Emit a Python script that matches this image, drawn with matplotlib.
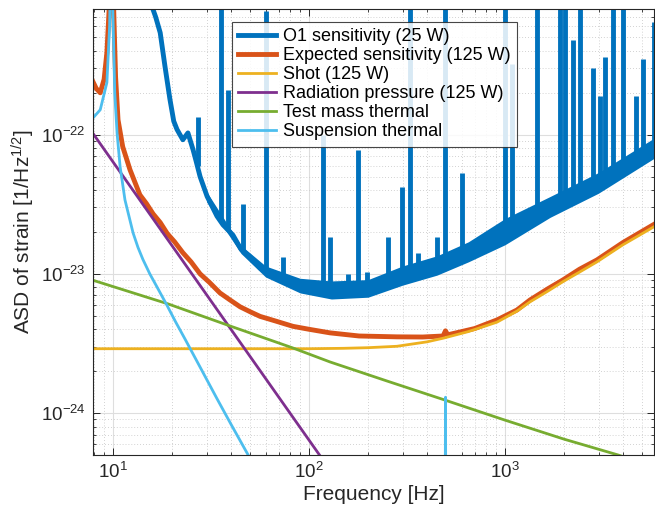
import matplotlib
matplotlib.use('Agg')
import matplotlib.pyplot as plt
from matplotlib.ticker import LogLocator, NullFormatter

plt.rcParams['font.family'] = ['Liberation Sans', 'DejaVu Sans']
plt.rcParams['mathtext.default'] = 'regular'

# ---- data (Hz, strain/rtHz) ----
# O1 measured curve: smooth floor, noisy band around it, and narrow lines
freq_o1 = [15.5, 16.5, 17.4, 18.4, 19.5, 20.4, 21.2, 22.7, 24.1, 25.6, 26.5, 27.8, 30.2,
           33.9, 36.4, 40.9, 45, 49.9, 56.3, 65.5, 80, 90, 132, 197, 292, 428, 640,
           988, 1698, 3055, 5800]
asd_o1 = [9e-22, 7e-22, 5.4e-22, 3.1e-22, 1.8e-22, 1.25e-22, 1.09e-22, 9.2e-23, 1.03e-22,
          7.8e-23, 6.5e-23, 5.0e-23, 3.6e-23, 2.6e-23, 2.25e-23, 1.9e-23, 1.5e-23,
          1.33e-23, 1.1e-23, 9.6e-24, 9.3e-24, 8.3e-24, 7.7e-24, 7.9e-24, 9.8e-24,
          1.12e-23, 1.42e-23, 2.0e-23, 3.03e-23, 4.52e-23, 8.0e-23]

band_freq = [30, 45, 60, 90, 130, 200, 300, 450, 650, 1000, 1700, 3000, 5800]
band_lo = [3.3e-23, 1.4e-23, 9.5e-24, 7.3e-24, 6.6e-24, 6.8e-24, 8.3e-24, 9.8e-24,
           1.22e-23, 1.62e-23, 2.55e-23, 3.8e-23, 6.8e-23]
band_hi = [3.9e-23, 1.6e-23, 1.14e-23, 9.3e-24, 8.9e-24, 9.1e-24, 1.14e-23, 1.35e-23,
           1.7e-23, 2.5e-23, 3.6e-23, 5.35e-23, 9.5e-23]

line_freq = [27.2, 35.5, 38.5, 46.0, 60.0, 73.7, 118, 128, 158, 178, 198, 253, 298, 327,
             359, 448, 494, 604, 1000, 1080, 1457, 1917, 2032, 2230, 2419, 2800, 3045,
             3225, 3541, 3985, 4680, 5050, 5750]
line_base = [6.0e-23, 2.4e-23, 2.1e-23, 1.45e-23, 1.05e-23, 9.4e-24, 7.8e-24, 7.7e-24,
             7.7e-24, 7.8e-24, 7.9e-24, 9.0e-24, 9.8e-24, 1.0e-23, 1.05e-23, 1.15e-23,
             1.2e-23, 1.4e-23, 2.0e-23, 2.1e-23, 2.7e-23, 3.3e-23, 3.4e-23, 3.6e-23,
             3.8e-23, 4.2e-23, 4.5e-23, 4.7e-23, 5.0e-23, 5.6e-23, 6.4e-23, 6.9e-23, 8.0e-23]
line_top = [1.33e-22, 9e-22, 2.1e-22, 3.2e-23, 7.7e-22, 1.32e-23, 1.0e-22, 1.85e-23,
            1.0e-23, 7.8e-23, 1.03e-23, 1.85e-23, 4.2e-23, 9e-22, 1.42e-23, 1.85e-23,
            9e-22, 5.3e-23, 9e-22, 3.2e-22, 9e-22, 9e-22, 9e-22, 4.8e-22, 9e-22,
            3.0e-22, 1.9e-22, 3.6e-22, 9e-22, 9e-22, 1.9e-22, 3.5e-22, 6.4e-22]

freq_exp = [7.9, 8.2, 8.6, 9.0, 9.3, 9.55, 9.8, 10.05, 10.3, 10.6, 11.2, 12.2, 13.7, 14.8,
            16.0, 17.4, 18.9, 20.6, 22.7, 25, 27.8, 31, 35.1, 39.5, 44.5, 50, 56.3, 67,
            82.8, 100, 128, 180, 281, 380, 483, 497, 510, 700, 910, 1150, 1342, 1650,
            1977, 2400, 2946, 4000, 5820]
asd_exp = [2.4e-22, 2.15e-22, 2.0e-22, 2.5e-22, 3.9e-22, 8e-22, 5e-21, 9e-22, 2.6e-22,
           1.28e-22, 8.2e-23, 5.6e-23, 3.7e-23, 3.2e-23, 2.7e-23, 2.34e-23, 1.95e-23,
           1.7e-23, 1.42e-23, 1.22e-23, 1.0e-23, 8.7e-24, 7.3e-24, 6.5e-24, 5.8e-24,
           5.35e-24, 4.95e-24, 4.6e-24, 4.2e-24, 4.0e-24, 3.77e-24, 3.58e-24, 3.53e-24,
           3.52e-24, 3.58e-24, 3.9e-24, 3.65e-24, 4.05e-24, 4.67e-24, 5.5e-24, 6.5e-24,
           7.8e-24, 9.06e-24, 1.08e-23, 1.26e-23, 1.68e-23, 2.29e-23]

freq_shot = [7.9, 100, 150, 200, 281, 400, 483, 650, 910, 1150, 1342, 1650, 1977, 2400,
             2946, 4000, 5820]
asd_shot = [2.9e-24, 2.9e-24, 2.92e-24, 2.95e-24, 3.02e-24, 3.25e-24, 3.45e-24, 3.85e-24,
            4.5e-24, 5.4e-24, 6.3e-24, 7.5e-24, 8.8e-24, 1.03e-23, 1.22e-23, 1.62e-23,
            2.2e-23]

freq_rad = [7.9, 200]
asd_rad = [1.02e-22, 1.6e-25]

freq_tm = [7.9, 19, 40, 82, 128, 250, 494, 1000, 2000, 3780, 6000]
asd_tm = [9.0e-24, 6.1e-24, 4.2e-24, 2.95e-24, 2.33e-24, 1.7e-24, 1.24e-24, 8.9e-25,
          6.5e-25, 5.0e-25, 4.0e-25]

freq_susp = [7.9, 8.6, 9.3, 9.6, 9.85, 9.95, 10.2, 10.48, 10.86, 11.5, 12.65, 13.4, 14.2,
             15.4, 16.8, 18.9, 20.8, 23.3, 28, 33.9, 40, 48.9, 100, 490, 497, 503, 6000]
asd_susp = [1.32e-22, 1.51e-22, 2.37e-22, 6e-22, 5e-21, 9e-22, 2.0e-22, 1.03e-22, 5.9e-23,
            3.4e-23, 1.97e-23, 1.55e-23, 1.27e-23, 1.0e-23, 8.0e-24, 5.9e-24, 4.55e-24,
            3.4e-24, 2.1e-24, 1.27e-24, 8.3e-25, 5.0e-25, 8e-26, 1.5e-27, 1.3e-24,
            1.5e-27, 3e-29]

labels = ['O1 sensitivity (25 W)', 'Expected sensitivity (125 W)', 'Shot (125 W)',
          'Radiation pressure (125 W)', 'Test mass thermal', 'Suspension thermal']

c_blue = '#0072BD'
c_orange = '#D95319'
c_yellow = '#EDB120'
c_purple = '#7E2F8E'
c_green = '#77AC30'
c_cyan = '#4DBEEE'
c_axis = '#262626'

fig = plt.figure(figsize=(6.55, 5.14), dpi=100)
ax = fig.add_axes([0.142, 0.1148, 0.8565, 0.8677])

ax.fill_between(band_freq, band_lo, band_hi, color=c_blue, lw=0)
ax.loglog(freq_o1, asd_o1, color=c_blue, lw=3.5, label=labels[0])
ax.vlines(line_freq, line_base, line_top, color=c_blue, lw=3.5)
ax.loglog(freq_exp, asd_exp, color=c_orange, lw=3.5, label=labels[1])
ax.loglog(freq_shot, asd_shot, color=c_yellow, lw=2, label=labels[2])
ax.loglog(freq_rad, asd_rad, color=c_purple, lw=2, label=labels[3])
ax.loglog(freq_tm, asd_tm, color=c_green, lw=2, label=labels[4])
ax.loglog(freq_susp, asd_susp, color=c_cyan, lw=2, label=labels[5])

ax.set_xlim(7.9, 5760)
ax.set_ylim(5e-25, 8e-22)
ax.set_xticks([10, 100, 1000])
ax.set_yticks([1e-24, 1e-23, 1e-22])
ax.xaxis.set_minor_locator(LogLocator(base=10, subs=range(2, 10), numticks=50))
ax.yaxis.set_minor_locator(LogLocator(base=10, subs=range(2, 10), numticks=50))
ax.xaxis.set_minor_formatter(NullFormatter())
ax.yaxis.set_minor_formatter(NullFormatter())

ax.set_axisbelow(True)
ax.grid(which='major', color='#dedede', lw=0.8, ls='-')
ax.grid(which='minor', color='#c4c4c4', lw=0.6, ls=(0, (1, 2.5)))

ax.tick_params(which='both', direction='in', top=True, right=True, colors=c_axis,
               labelsize=13.5, pad=5)
ax.tick_params(which='major', length=5, width=0.7)
ax.tick_params(which='minor', length=2.5, width=0.6)
for s in ax.spines.values():
    s.set_color(c_axis)
    s.set_linewidth(0.8)

ax.set_xlabel('Frequency [Hz]', fontsize=15, color=c_axis, labelpad=2)
ax.set_ylabel('ASD of strain [1/Hz$^{1/2}$]', fontsize=15, color=c_axis, labelpad=3)

leg = ax.legend(loc='upper left', bbox_to_anchor=(232 / 655, 1 - 22 / 514),
                bbox_transform=fig.transFigure, fontsize=13, fancybox=False,
                framealpha=0.85, edgecolor=c_axis, borderaxespad=0, labelspacing=0.11,
                handlelength=2.1, handletextpad=0.35, borderpad=0.35)
leg.get_frame().set_linewidth(0.8)

fig.savefig('out.png', dpi=100)
